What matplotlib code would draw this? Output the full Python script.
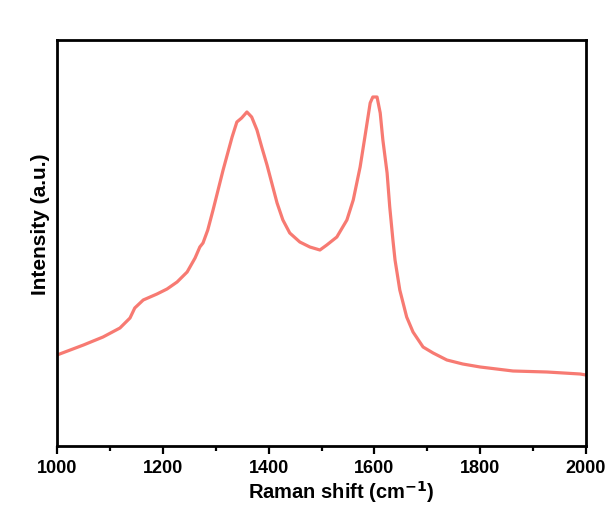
import numpy as np
import matplotlib
matplotlib.use('Agg')
import matplotlib.pyplot as plt

matplotlib.rcParams['font.family'] = ['Liberation Sans', 'DejaVu Sans']
matplotlib.rcParams['font.weight'] = 'bold'

# Raman shift (cm-1) and intensity (a.u.)
shift = [1000, 1050, 1087, 1119, 1138, 1147, 1163, 1189, 1208, 1227, 1246,
         1261, 1270, 1276, 1285, 1295, 1314, 1331, 1340, 1349, 1359, 1368,
         1378, 1387, 1397, 1406, 1416, 1427, 1440, 1459, 1478, 1497, 1510,
         1529, 1548, 1560, 1573, 1582, 1592, 1597, 1605, 1611, 1616, 1624,
         1629, 1635, 1639, 1648, 1661, 1673, 1692, 1711, 1737, 1767, 1800,
         1862, 1926, 1989, 2000]
intensity = [95, 105, 113, 122, 132, 142, 150, 156, 161, 168, 178,
             192, 203, 207, 220, 240, 280, 313, 328, 332, 338, 333,
             320, 303, 285, 267, 247, 230, 217, 208, 203, 200, 205,
             213, 230, 250, 283, 313, 347, 353, 353, 337, 310, 277,
             243, 210, 190, 160, 133, 118, 103, 97, 90, 86, 83,
             79, 78, 76, 75]

x_ticks = [1000, 1200, 1400, 1600, 1800, 2000]

fig = plt.figure(figsize=(6.12, 5.12), dpi=100)
ax = fig.add_axes([57 / 612, 1 - 446 / 512, 529 / 612, 406 / 512])

ax.plot(shift, intensity, color='#f77a72', lw=2.3)

ax.set_xlim(1000, 2000)
ax.set_ylim(4, 410)
ax.set_xticks(x_ticks)
ax.set_xticks(np.arange(1100, 2000, 200), minor=True)
ax.set_yticks([])

for sp in ax.spines.values():
    sp.set_linewidth(2.0)

ax.tick_params(axis='x', which='major', length=6, width=1.6, direction='out',
               labelsize=13, pad=3.8)
ax.tick_params(axis='x', which='minor', length=3.5, width=1.6, direction='out')

ax.set_xlabel('Raman shift (cm$^{\\mathbf{-1}}$)', fontsize=14.5, fontweight='bold')
ax.xaxis.set_label_coords(0.537, -0.1305)
ax.xaxis.label.set_va('baseline')
ax.set_ylabel('Intensity (a.u.)', fontsize=15, fontweight='bold')
ax.yaxis.set_label_coords(-0.032, 0.545)
ax.yaxis.label.set_va('center')

fig.savefig('out.png', dpi=100)
